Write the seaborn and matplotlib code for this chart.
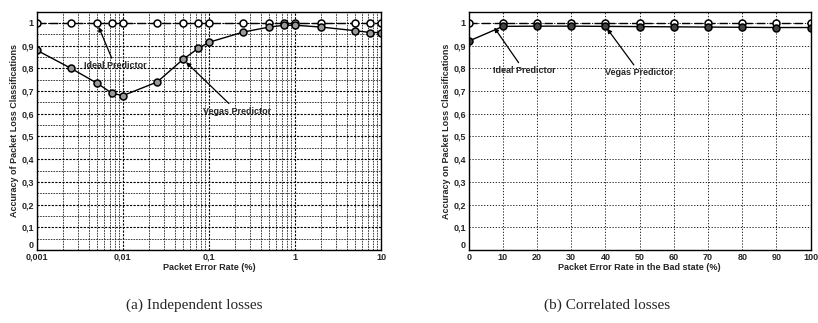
import matplotlib
matplotlib.use("Agg")
import matplotlib.pyplot as plt
from matplotlib.ticker import FixedLocator, FuncFormatter, MultipleLocator
import numpy as np
import pandas as pd
import seaborn as sns

# (a) independent losses, log x axis
rate_a = [0.001, 0.0025, 0.005, 0.0075, 0.01, 0.025, 0.05, 0.075, 0.1,
          0.25, 0.5, 0.75, 1, 2, 5, 7.5, 10]
vegas_a = [0.88, 0.80, 0.735, 0.69, 0.68, 0.74, 0.84, 0.888, 0.915,
           0.96, 0.982, 0.99, 0.99, 0.982, 0.966, 0.958, 0.958]
ideal_a = [1.0] * len(rate_a)

# (b) correlated losses, linear x axis
rate_b = [0, 10, 20, 30, 40, 50, 60, 70, 80, 90, 100]
vegas_b = [0.92, 0.985, 0.986, 0.986, 0.985, 0.984, 0.983, 0.982, 0.981, 0.98, 0.98]
ideal_b = [1.0] * len(rate_b)

xticks_a = [0.001, 0.01, 0.1, 1, 10]
xticklabels_a = ["0,001", "0,01", "0,1", "1", "10"]
yticks = [0, 0.1, 0.2, 0.3, 0.4, 0.5, 0.6, 0.7, 0.8, 0.9, 1.0]

sns.set_style("ticks")
plt.rcParams['font.family'] = ['Liberation Sans', 'DejaVu Sans']

fig = plt.figure(figsize=(8.18, 3.23), dpi=100)
ax1 = fig.add_axes([0.045, 0.226, 0.421, 0.738])
ax2 = fig.add_axes([0.573, 0.226, 0.418, 0.738])

def comma(v, pos):
    if v == 0:
        return "0"
    if abs(v - 1) < 1e-9:
        return "1"
    return ("%.1f" % v).replace(".", ",")

def draw(ax, x, vegas, ideal, vfill):
    df = pd.DataFrame({"x": x, "Vegas": vegas, "Ideal": ideal})
    sns.lineplot(data=df, x="x", y="Ideal", ax=ax, color="black", lw=1.0,
                 linestyle=(0, (6, 3)), marker="o", markersize=5,
                 markerfacecolor="white", markeredgecolor="black", markeredgewidth=1.1)
    sns.lineplot(data=df, x="x", y="Vegas", ax=ax, color="black", lw=1.0,
                 marker="o", markersize=5, markerfacecolor=vfill,
                 markeredgecolor="black", markeredgewidth=1.1)
    ax.set_ylim(0, 1.05)
    ax.yaxis.set_major_locator(FixedLocator(yticks))
    ax.yaxis.set_major_formatter(FuncFormatter(comma))
    for s in ax.spines.values():
        s.set_visible(True)
        s.set_color("black")
        s.set_linewidth(1.0)
    ax.tick_params(axis="both", which="both", direction="in", length=0,
                   labelsize=6.5, pad=2)

def bold_ticks(ax):
    fig.canvas.draw()
    for lab in ax.get_xticklabels() + ax.get_yticklabels():
        lab.set_fontweight("bold")
    ax.get_yticklabels()[0].set_va("bottom")

# left panel
draw(ax1, rate_a, vegas_a, ideal_a, "#999999")
ax1.set_xscale("log")
ax1.set_xlim(0.001, 10)
ax1.set_xticks(xticks_a)
ax1.set_xticklabels(xticklabels_a)
ax1.yaxis.set_minor_locator(MultipleLocator(0.05))
ax1.grid(True, which="major", color="black", linestyle=(0, (2, 1.2)), lw=0.8)
ax1.grid(True, which="minor", color="#222222", linestyle=(0, (2, 1.2)), lw=0.6)
ax1.set_xlabel("Packet Error Rate (%)", fontsize=6.5, fontweight="bold", labelpad=1)
ax1.set_ylabel("Accuracy of Packet Loss Classifications", fontsize=6.5,
               fontweight="bold", labelpad=2)
ax1.annotate("Ideal Predictor", xy=(0.005, 1.0), xytext=(0.0035, 0.80),
             fontsize=6.5, fontweight="bold",
             arrowprops=dict(arrowstyle="-|>", color="black", lw=0.9, shrinkA=0, shrinkB=3))
ax1.annotate("Vegas Predictor", xy=(0.05, 0.84), xytext=(0.085, 0.60),
             fontsize=6.5, fontweight="bold",
             arrowprops=dict(arrowstyle="-|>", color="black", lw=0.9, shrinkA=0, shrinkB=3))

# right panel
draw(ax2, rate_b, vegas_b, ideal_b, "#444444")
ax2.set_xlim(0, 100)
ax2.set_xticks(rate_b)
ax2.grid(True, which="major", color="black", linestyle=(0, (1.5, 2)), lw=0.6)
ax2.set_xlabel("Packet Error Rate in the Bad state (%)", fontsize=6.5,
               fontweight="bold", labelpad=1)
ax2.set_ylabel("Accuracy on Packet Loss Classifications", fontsize=6.5,
               fontweight="bold", labelpad=2)
ax2.annotate("Ideal Predictor", xy=(7, 0.99), xytext=(7, 0.78),
             fontsize=6.5, fontweight="bold",
             arrowprops=dict(arrowstyle="-|>", color="black", lw=0.9, shrinkA=0, shrinkB=2))
ax2.annotate("Vegas Predictor", xy=(40, 0.985), xytext=(40, 0.77),
             fontsize=6.5, fontweight="bold",
             arrowprops=dict(arrowstyle="-|>", color="black", lw=0.9, shrinkA=0, shrinkB=2))

bold_ticks(ax1)
bold_ticks(ax2)

fig.text(0.238, 0.055, "(a) Independent losses", ha="center", va="center",
         fontsize=11, family=["Liberation Serif", "DejaVu Serif"])
fig.text(0.742, 0.055, "(b) Correlated losses", ha="center", va="center",
         fontsize=11, family=["Liberation Serif", "DejaVu Serif"])

fig.savefig("out.png", dpi=100)
